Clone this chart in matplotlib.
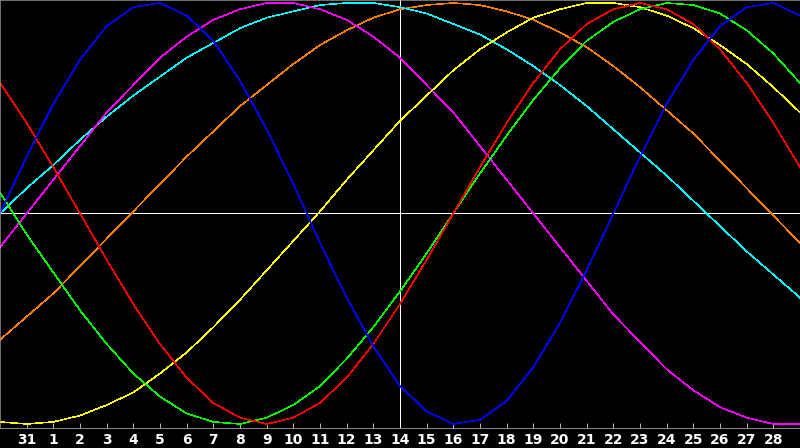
import matplotlib
matplotlib.use("Agg")
import matplotlib.pyplot as plt

# days shown along the bottom (index -1 .. 29), first/last sit on the frame edges
days = [30, 31] + list(range(1, 30))
day_index = list(range(-1, 30))
today = 14

# cycle values, one per day
physical = [0.00, 0.27, 0.52, 0.73, 0.89, 0.98, 1.00, 0.94, 0.82, 0.63, 0.40,
            0.14, -0.14, -0.40, -0.63, -0.82, -0.94, -1.00, -0.98, -0.89, -0.73,
            -0.52, -0.27, 0.00, 0.27, 0.52, 0.73, 0.89, 0.98, 1.00, 0.94]
emotional = [0.62, 0.43, 0.22, 0.00, -0.22, -0.43, -0.62, -0.78, -0.90, -0.97,
             -1.00, -0.97, -0.90, -0.78, -0.62, -0.43, -0.22, 0.00, 0.22, 0.43,
             0.62, 0.78, 0.90, 0.97, 1.00, 0.97, 0.90, 0.78, 0.62, 0.43, 0.22]
intellectual = [0.10, -0.10, -0.28, -0.46, -0.62, -0.76, -0.87, -0.95, -0.99,
                -1.00, -0.97, -0.91, -0.82, -0.69, -0.54, -0.37, -0.19, 0.00,
                0.19, 0.37, 0.54, 0.69, 0.82, 0.91, 0.97, 1.00, 0.99, 0.95,
                0.87, 0.76, 0.62]
aesthetic = [-0.99, -1.00, -0.99, -0.96, -0.91, -0.85, -0.76, -0.66, -0.54,
             -0.41, -0.27, -0.13, 0.01, 0.16, 0.30, 0.44, 0.56, 0.68, 0.78,
             0.86, 0.93, 0.97, 1.00, 1.00, 0.98, 0.94, 0.88, 0.80, 0.71, 0.60,
             0.48]
intuitive = [-0.16, 0.00, 0.16, 0.32, 0.48, 0.61, 0.74, 0.84, 0.92, 0.97, 1.00,
             1.00, 0.97, 0.92, 0.84, 0.74, 0.61, 0.48, 0.32, 0.16, 0.00, -0.16,
             -0.32, -0.48, -0.61, -0.74, -0.84, -0.92, -0.97, -1.00, -1.00]
spiritual = [0.00, 0.12, 0.23, 0.35, 0.46, 0.56, 0.65, 0.74, 0.81, 0.88, 0.93,
             0.96, 0.99, 1.00, 1.00, 0.98, 0.95, 0.90, 0.85, 0.78, 0.70, 0.61,
             0.51, 0.40, 0.29, 0.18, 0.06, -0.06, -0.18, -0.29, -0.40]
awareness = [-0.60, -0.49, -0.38, -0.25, -0.12, 0.01, 0.14, 0.27, 0.39, 0.51,
             0.61, 0.71, 0.80, 0.87, 0.93, 0.97, 0.99, 1.00, 0.99, 0.96, 0.92,
             0.86, 0.79, 0.70, 0.60, 0.49, 0.38, 0.25, 0.12, -0.01, -0.14]

series = [
    (awareness, "#ff8000"),
    (spiritual, "#00ffff"),
    (intuitive, "#ff00ff"),
    (aesthetic, "#ffff00"),
    (intellectual, "#00ff00"),
    (emotional, "#ff0000"),
    (physical, "#0000ff"),
]

LW = 0.5  # ~1 px at 100 dpi with antialiasing off

fig = plt.figure(figsize=(8, 4.48), dpi=100, facecolor="black")
ax = fig.add_axes([0, 20 / 448, 1, 428 / 448], facecolor="black")

ax.axhline(0, color="white", lw=LW, antialiased=False, zorder=1)
ax.axvline(today, color="white", lw=LW, antialiased=False, zorder=1)

for vals, col in series:
    ax.plot(day_index, vals, color=col, lw=0.4, antialiased=False, zorder=2)

ax.set_xlim(-1, 29)
ax.set_ylim(-1.019, 1.014)

ax.set_yticks([])
ax.set_xticks(day_index[1:-1])
ax.set_xticklabels([str(d) for d in days[1:-1]], fontsize=10,
                   fontweight="bold", color="white")
ax.tick_params(axis="x", direction="in", length=3.6, width=LW,
               color="white", pad=3.5)

for side in ("left", "top", "right"):
    ax.spines[side].set_color("#a0a0a0")
    ax.spines[side].set_linewidth(LW)
ax.spines["bottom"].set_color("#c0c0c0")
ax.spines["bottom"].set_linewidth(LW)

fig.savefig("out.png", dpi=100, facecolor="black")
